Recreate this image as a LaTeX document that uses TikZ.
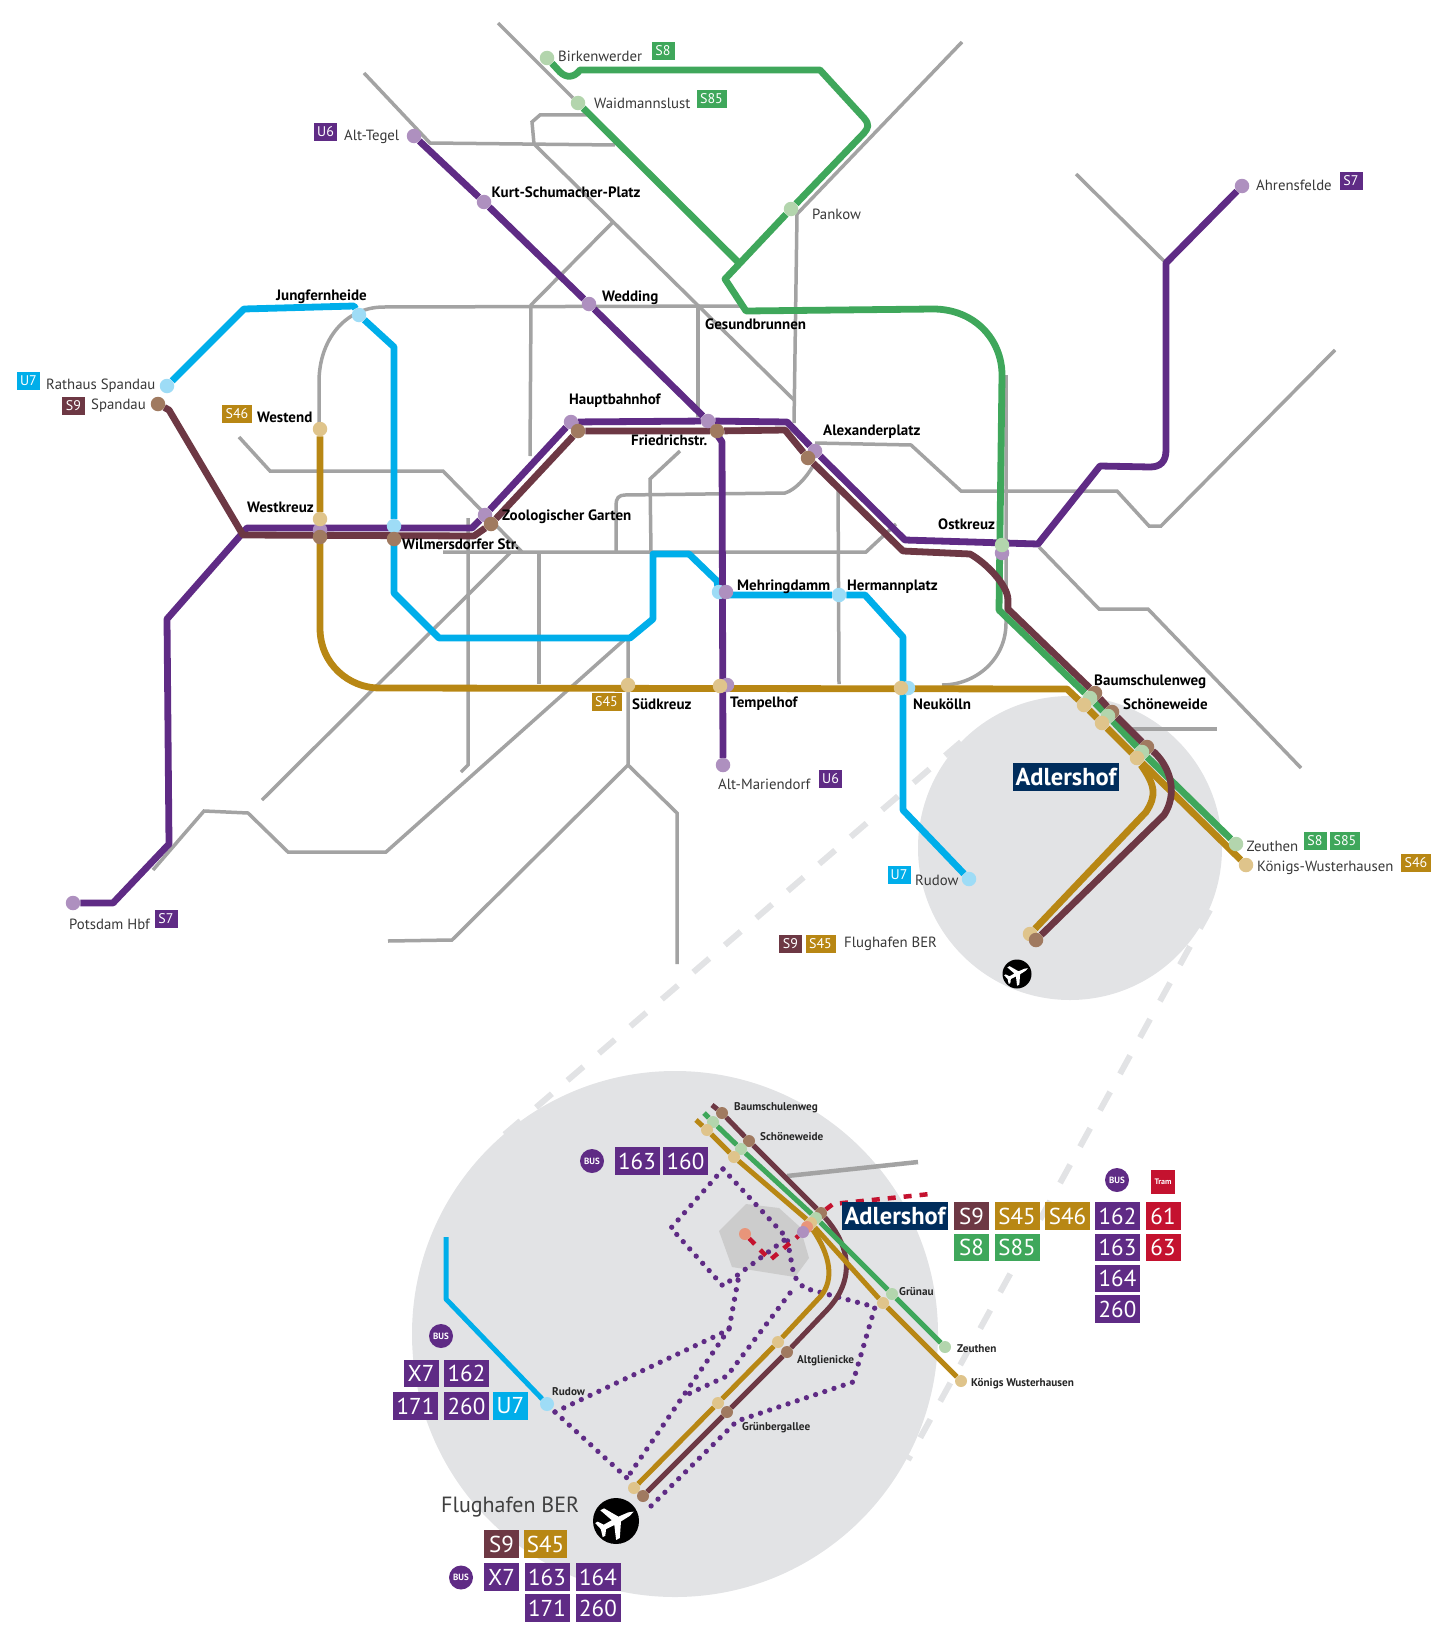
\documentclass[tikz,border=0pt]{standalone}
\usepackage{fontspec}
\setmainfont{PT Sans}
\usetikzlibrary{backgrounds}
\definecolor{cP}{HTML}{5F2B85}
\definecolor{cB}{HTML}{6D3844}
\definecolor{cO}{HTML}{B88714}
\definecolor{cG}{HTML}{3FA75B}
\definecolor{cU}{HTML}{00AEEA}
\definecolor{cN}{HTML}{A3A3A3}
\definecolor{cC}{HTML}{E2E3E5}
\definecolor{cT}{HTML}{C4122F}
\definecolor{cNavy}{HTML}{002D5C}
\definecolor{dP}{HTML}{AE90BF}
\definecolor{dB}{HTML}{A07A60}
\definecolor{dO}{HTML}{DFC48B}
\definecolor{dG}{HTML}{B3D5AD}
\definecolor{dU}{HTML}{9EDCF6}
\definecolor{dT}{HTML}{E8957A}
\newcommand{\fsz}[1]{\fontsize{#1}{#1}\selectfont}

\begin{document}
\begin{tikzpicture}[x=1pt,y=-1pt,
	stopm/.style={circle,minimum size=14.5pt,inner sep=0pt,outer sep=0pt,fill=#1},
	stopi/.style={circle,minimum size=12pt,inner sep=0pt,outer sep=0pt,fill=#1},
	lab/.style={anchor=west,inner sep=0pt,yshift=-1pt,text=black,font=\bfseries\fsz{15}},
	labg/.style={anchor=west,inner sep=0pt,yshift=-1pt,text=black!78,font=\fsz{14.8}},
	labi/.style={anchor=west,inner sep=0pt,yshift=-1pt,text=black!85,font=\bfseries\fsz{11.2}},
	tag/.style={fill=#1,text=white,inner sep=0pt,minimum width=23pt,minimum height=18pt,font=\fsz{14}},
	tagw/.style={tag=#1,minimum width=30pt},
	tagb/.style={fill=#1,text=white,inner sep=0pt,minimum width=45pt,minimum height=27.5pt,font=\fsz{23}},
	tags/.style={tagb=#1,minimum width=35pt},
	busm/.style={circle,fill=cP,text=white,inner sep=0pt,minimum size=24pt,font=\bfseries\fsz{9}},
	net/.style={draw=cN,line width=3.5pt,line join=miter},
	rail/.style={draw=#1,line width=6.8pt,line join=round},
	raili/.style={draw=#1,line width=5pt,line join=round},
	busline/.style={draw=cP,line width=5.3pt,line cap=round,dash pattern=on 0pt off 9.7pt},
	lens/.style={draw=cC,line width=6pt,dash pattern=on 21pt off 20.5pt},
	adlerbox/.style={fill=cNavy,text=white,inner sep=0pt,minimum width=106pt,minimum height=28pt,font=\bfseries\fsz{24.5}},
	planeicon/.pic={\fill[white] (0.95,0) -- (0.7,0.09) -- (0.2,0.13) -- (-0.22,0.8) -- (-0.42,0.8) -- (-0.16,0.13) -- (-0.6,0.12) -- (-0.78,0.38) -- (-0.92,0.38) -- (-0.82,0) -- (-0.92,-0.38) -- (-0.78,-0.38) -- (-0.6,-0.12) -- (-0.16,-0.13) -- (-0.42,-0.8) -- (-0.22,-0.8) -- (0.2,-0.13) -- (0.7,-0.09) -- cycle;}]
	\useasboundingbox (0,0) rectangle (1450,1651);

	\node[stopm=dG] (birken) at (547,58) {};
	\node[stopm=dG] (waid) at (578,103) {};
	\node[stopm=dG] (pankow) at (791,209) {};
	\node[stopm=dP] (ostP) at (1002,553) {};
	\node[stopm=dG] (ost) at (1002,545) {};
	\node[stopm=dP] (tegel) at (414,136) {};
	\node[stopm=dP] (kurt) at (484,202) {};
	\node[stopm=dP] (wedding) at (589,304) {};
	\node[stopm=dP] (hbf) at (571,422) {};
	\node[stopm=dB] (hbfB) at (578,431) {};
	\node[stopm=dP] (fried) at (708,421) {};
	\node[stopm=dB] (friedB) at (717,431) {};
	\node[stopm=dP] (alex) at (815,451) {};
	\node[stopm=dB] (alexB) at (808,458) {};
	\node[stopm=dP] (zoo) at (485,515) {};
	\node[stopm=dB] (zooB) at (491,524) {};
	\node[stopm=dP] (westP) at (320,530) {};
	\node[stopm=dO] (westO) at (320,519) {};
	\node[stopm=dB] (westB) at (320,537) {};
	\node[stopm=dU] (wilm) at (394,526) {};
	\node[stopm=dB] (wilmB) at (394,539) {};
	\node[stopm=dP] (ahrens) at (1242,186) {};
	\node[stopm=dP] (potsdam) at (73,903) {};
	\node[stopm=dU] (mehrU) at (719,592) {};
	\node[stopm=dP] (mehr) at (726,592) {};
	\node[stopm=dP] (tempP) at (727,685) {};
	\node[stopm=dO] (tempel) at (720,686) {};
	\node[stopm=dP] (marien) at (723,765) {};
	\node[stopm=dU] (rathaus) at (167,386) {};
	\node[stopm=dB] (spandau) at (158,404) {};
	\node[stopm=dU] (jung) at (359,315) {};
	\node[stopm=dO] (westend) at (320,429) {};
	\node[stopm=dU] (hermann) at (839,595) {};
	\node[stopm=dU] (neukU) at (908,688) {};
	\node[stopm=dO] (neuk) at (901,688) {};
	\node[stopm=dO] (sued) at (628,685) {};
	\node[stopm=dU] (rudow) at (969,879) {};
	\node[stopm=dB] (baumB) at (1095,693) {};
	\node[stopm=dG] (baumG) at (1090,698) {};
	\node[stopm=dO] (baumO) at (1084,705) {};
	\node[stopm=dB] (schoeB) at (1112,712) {};
	\node[stopm=dG] (schoeG) at (1108,716) {};
	\node[stopm=dO] (schoeO) at (1102,723) {};
	\node[stopm=dB] (adlerB) at (1147,747) {};
	\node[stopm=dG] (adlerG) at (1142,752) {};
	\node[stopm=dO] (adlerO) at (1137,758) {};
	\node[stopm=dG] (zeuthen) at (1236,844) {};
	\node[stopm=dO] (koenigs) at (1246,865) {};
	\node[stopm=dO] (berO) at (1030,934) {};
	\node[stopm=dB] (berB) at (1036,940) {};

	\node[stopi=dB] (ibaumB) at (722,1113) {};
	\node[stopi=dG] (ibaumG) at (713,1122) {};
	\node[stopi=dO] (ibaumO) at (707,1130) {};
	\node[stopi=dB] (ischoeB) at (749,1141) {};
	\node[stopi=dG] (ischoeG) at (741,1149) {};
	\node[stopi=dO] (ischoeO) at (734,1157) {};
	\node[stopi=dB] (iadlerB) at (821,1213) {};
	\node[stopi=dG] (iadlerG) at (816,1218) {};
	\node[stopi=dO] (iadlerO) at (811,1223) {};
	\node[stopi=dT] (iadlerT) at (807,1227) {};
	\node[stopi=dP] (iadlerP) at (803,1232) {};
	\node[stopi=dT] (itram) at (745,1234) {};
	\node[stopi=dG] (igruenG) at (892,1294) {};
	\node[stopi=dO] (igruenO) at (883,1303) {};
	\node[stopi=dG] (izeuthen) at (945,1347) {};
	\node[stopi=dO] (ikoenigs) at (961,1381) {};
	\node[stopi=dO] (ialtO) at (778,1342) {};
	\node[stopi=dB] (ialtB) at (787,1352) {};
	\node[stopi=dO] (igrueO) at (718,1403) {};
	\node[stopi=dB] (igrueB) at (727,1412) {};
	\node[stopi=dO] (iberO) at (634,1488) {};
	\node[stopi=dB] (iberB) at (643,1496) {};
	\node[stopi=dU,minimum size=14pt] (irudow) at (547,1404) {};

	\coordinate (lensA) at (961,742);
	\coordinate (lensB) at (490,1147);
	\coordinate (lensC) at (1210,910);
	\coordinate (lensD) at (908,1460);
	\coordinate (bus0) at (555,1412);
	\coordinate (bus1) at (723,1169);
	\coordinate (bus2) at (723,1286);
	\coordinate (bus3) at (787,1238);
	\coordinate (bus4) at (729,1329);
	\coordinate (bus5) at (627,1478);

	\begin{scope}[on background layer]
		\fill[cC] (1070,848) circle (152);
		\fill[cC] (675,1334) circle (263);
		\path[lens] (lensA) -- (lensB);
		\path[lens] (lensC) -- (lensD);
		\path[net] (498,23) -- (waid);
		\path[net] (364,73) -- (430,143) -- (615,145);
		\path[net] (587,115) -- (540,115) -- (532,122) -- (534,144) -- (794,400);
		\path[net] (613,222) -- (531,305) -- (530,456);
		\path[net] (319,428) -- (319,382) .. controls (319,340) and (345,307) .. (384,307) -- (745,306);
		\path[net] (698,306) -- (698,417);
		\path[net] (239,437) -- (270,471) -- (443,471) -- (522,552);
		\path[net] (443,552) -- (866,552) -- (896,524);
		\path[net] (468,518) -- (468,765) -- (461,772);
		\path[net] (539,552) -- (539,684);
		\path[net] (680,451) -- (650,479) -- (651,552);
		\path[net] (616,552) -- (616,505) .. controls (616,498) and (619,495) .. (625,495) -- (785,493) .. controls (795,490) and (806,478) .. (813,466);
		\path[net] (262,800) -- (511,552);
		\path[net] (153,870) -- (204,811) -- (248,813) -- (288,852) -- (386,852) -- (624,640);
		\path[net] (628,640) -- (628,765) -- (677,813) -- (677,964);
		\path[net] (628,765) -- (452,940) -- (388,941);
		\path[net] (962,42) -- (797,214) -- (794,423);
		\path[net] (1076,174) -- (1164,261);
		\path[net] (815,443) -- (911,445) -- (961,491) -- (1117,491) -- (1149,526) -- (1161,526) -- (1335,350);
		\path[net] (1039,547) -- (1099,609) -- (1148,609) -- (1301,768);
		\path[net] (838,484) -- (839,684);
		\path[net] (1006,375) -- (1006,623) .. controls (1006,660) and (975,685) .. (942,685);
		\path[net] (1132,729) -- (1217,729);

		\fill[black!20] (746,1204) -- (779,1208) -- (800,1227) -- (809,1258) -- (795,1277) -- (732,1267) -- (719,1231) -- cycle;
		\draw[cN,line width=4.5pt] (918,1162) -- (787,1176);
		\path[busline] (bus1) -- (bus3) -- (794,1276) -- (804,1288) -- (875,1307) -- (853,1382) -- (737,1421) -- (649,1508);
		\path[busline] (bus1) -- (671,1228) -- (bus2) -- (bus3);
		\path[busline] (bus0) -- (720,1334) -- (bus4) -- (739,1275);
		\path[busline] (bus4) -- (bus5);
		\path[busline] (790,1293) -- (727,1376) -- (684,1396);
		\path[busline] (bus0) -- (bus5);
		\draw[cT,line width=4.5pt,dash pattern=on 8pt off 8pt] (itram) -- (770,1260) -- (iadlerP) -- (iadlerB) -- (833,1204) -- (930,1194);
		\path[raili=cU] (446,1237) -- (446,1299) -- (irudow);
		\path[raili=cO] (813,1230) .. controls (830,1255) and (835,1280) .. (820,1297) -- (ialtO) -- (igrueO) -- (iberO);
		\path[raili=cB] (712,1105) -- (ibaumB) -- (ischoeB) -- (iadlerB) .. controls (845,1240) and (860,1275) .. (827,1310) -- (ialtB) -- (igrueB) -- (iberB);
		\path[raili=cO] (696,1120) -- (ibaumO) -- (ischoeO) -- (iadlerO) -- (igruenO) -- (ikoenigs);
		\path[raili=cG] (704,1113) -- (ibaumG) -- (ischoeG) -- (iadlerG) -- (igruenG) -- (izeuthen);

		\path[rail=cO] (westend) -- (westO) -- (320,628) .. controls (320,665) and (350,688) .. (379,688) -- (1067,689) -- (baumO) -- (schoeO) -- (adlerO) -- (koenigs);
		\path[rail=cO] (1141,765) .. controls (1155,785) and (1157,795) .. (1146,812) -- (berO);
		\path[rail=cU] (rathaus) -- (244,309) -- (354,306) -- (jung) -- (394,347) -- (wilm) -- (394,593) -- (439,638) -- (630,638) -- (653,619) -- (653,554) -- (689,554) -- (717,581) -- (719,595) -- (hermann) -- (865,595) -- (903,637) -- (903,810) -- (rudow);
		\path[rail=cP] (tegel) -- (kurt) -- (wedding) -- (fried) -- (722,442) -- (marien);
		\path[rail=cP] (ahrens) -- (1166,263) -- (1166,450) .. controls (1166,462) and (1160,467) .. (1150,467) -- (1100,466) -- (1038,544) -- (905,540) -- (alex) -- (787,422) -- (fried) -- (hbf) -- (zoo) -- (472,528) -- (247,528) -- (167,619) -- (169,844) -- (113,903) -- (potsdam);
		\path[rail=cG] (waid) -- (738,262);
		\path[rail=cG] (birken) -- (560,72) .. controls (566,78) and (574,78) .. (580,70) -- (820,70) -- (864,118) .. controls (870,125) and (868,128) .. (864,133) -- (pankow) -- (725,279) -- (746,311) -- (933,309) .. controls (975,309) and (1002,340) .. (1002,375) -- (999,610) -- (baumG) -- (schoeG) -- (adlerG) -- (zeuthen);
		\path[rail=cB] (spandau) -- (169,410) -- (243,535) -- (474,536) -- (zooB) -- (hbfB) -- (friedB) -- (785,430) -- (alexB) -- (903,551) -- (970,554) .. controls (985,562) and (1008,585) .. (1008,600) -- (1008,609) -- (baumB) -- (schoeB) -- (adlerB) -- (1155,753) .. controls (1172,770) and (1177,795) .. (1164,815) -- (berB);
	\end{scope}

	\node[lab] (t1) at (491.5,191) {Kurt-Schumacher-Platz};
	\node[lab] (t2) at (602,297) {Wedding};
	\node[lab] (t3) at (276,296) {Jungfernheide};
	\node[lab] (t4) at (569,400) {Hauptbahnhof};
	\node[lab] (t5) at (631,439) {Friedrichstr.};
	\node[lab] (t6) at (247,506) {Westkreuz};
	\node[lab] (t7) at (502,516) {Zoologischer Garten};
	\node[lab] (t8) at (402,543) {Wilmersdorfer Str.};
	\node[lab] (t9) at (705,323) {Gesundbrunnen};
	\node[lab] (t10) at (823,431) {Alexanderplatz};
	\node[lab] (t11) at (938,523) {Ostkreuz};
	\node[lab] (t12) at (737,586) {Mehringdamm};
	\node[lab] (t13) at (847,586) {Hermannplatz};
	\node[lab] (t14) at (1094,681) {Baumschulenweg};
	\node[lab] (t15) at (1123,703) {Schöneweide};
	\node[lab] (t16) at (913,703) {Neukölln};
	\node[lab] (t17) at (730,703) {Tempelhof};
	\node[lab] (t18) at (632,703) {Südkreuz};
	\node[lab] (t19) at (257,416) {Westend};
	\node[labg] (g1) at (558,55) {Birkenwerder};
	\node[labg] (g2) at (594,102) {Waidmannslust};
	\node[labg] (g3) at (344,136) {Alt-Tegel};
	\node[labg] (g4) at (46,385) {Rathaus Spandau};
	\node[labg] (g5) at (91,405) {Spandau};
	\node[labg] (g6) at (812,213) {Pankow};
	\node[labg] (g7) at (1256,184) {Ahrensfelde};
	\node[labg] (g8) at (718,783) {Alt-Mariendorf};
	\node[labg] (g9) at (1246.5,845) {Zeuthen};
	\node[labg] (g10) at (1257,867) {Königs-Wusterhausen};
	\node[labg] (g11) at (915,879) {Rudow};
	\node[labg] (g12) at (844,943) {Flughafen BER};
	\node[labg] (g13) at (69,923) {Potsdam Hbf};

	\node[tag=cG] (b1) at (663,51) {S8};
	\node[tagw=cG] (b2) at (711.5,99) {S85};
	\node[tag=cP] (b3) at (325.5,132) {U6};
	\node[tag=cU] (b4) at (28.5,381) {U7};
	\node[tag=cB] (b5) at (73.5,405.5) {S9};
	\node[tagw=cO] (b6) at (237,414) {S46};
	\node[tag=cP] (b7) at (1351,181) {S7};
	\node[tag=cP] (b8) at (166,919) {S7};
	\node[tagw=cO] (b9) at (606.5,702) {S45};
	\node[tag=cP] (b10) at (830.5,779) {U6};
	\node[tag=cU] (b11) at (899,875) {U7};
	\node[tag=cB] (b12) at (790.5,944) {S9};
	\node[tagw=cO] (b13) at (820.5,944) {S45};
	\node[tag=cG] (b14) at (1315,841) {S8};
	\node[tagw=cG] (b15) at (1345,841) {S85};
	\node[tagw=cO] (b16) at (1416,863) {S46};
	\node[adlerbox] (adlerS) at (1066,777) {Adlershof};
	\node[circle,fill=black,minimum size=29pt,inner sep=0pt] (planeS) at (1017,974) {};
	\pic[rotate=28,scale=13] at (planeS) {planeicon};

	\node[labi] (i1) at (734,1107) {Baumschulenweg};
	\node[labi] (i2) at (760,1136) {Schöneweide};
	\node[labi] (i3) at (899,1291) {Grünau};
	\node[labi] (i4) at (957,1348) {Zeuthen};
	\node[labi] (i5) at (971,1383) {Königs Wusterhausen};
	\node[labi] (i6) at (797,1360) {Altglienicke};
	\node[labi] (i7) at (742,1427) {Grünbergallee};
	\node[labi] (i8) at (552,1391) {Rudow};

	\node[adlerbox] (adlerI) at (895,1216) {Adlershof};
	\node[tags=cB] (a1) at (971.5,1216) {S9};
	\node[tagb=cO] (a2) at (1017,1216) {S45};
	\node[tagb=cO] (a3) at (1067.5,1216) {S46};
	\node[tagb=cP] (a4) at (1117.5,1216) {162};
	\node[tags=cG] (a5) at (971.5,1247.5) {S8};
	\node[tagb=cG] (a6) at (1017,1247.5) {S85};
	\node[tagb=cP] (a7) at (1117.5,1247.5) {163};
	\node[tagb=cP] (a8) at (1117.5,1278.5) {164};
	\node[tagb=cP] (a9) at (1117.5,1309) {260};
	\node[tags=cT] (a10) at (1163,1216) {61};
	\node[tags=cT] (a11) at (1163,1247.5) {63};
	\node[busm] (a12) at (1117,1180) {BUS};
	\node[fill=cT,text=white,inner sep=0pt,minimum size=24pt,font=\bfseries\fsz{8}] (a13) at (1163,1182) {Tram};

	\node[busm] (c1) at (592,1161) {BUS};
	\node[tagb=cP] (c2) at (637,1161) {163};
	\node[tagb=cP] (c3) at (685.5,1161) {160};
	\node[busm] (c4) at (441,1336) {BUS};
	\node[tags=cP] (c5) at (421,1373.5) {X7};
	\node[tagb=cP] (c6) at (466.5,1373.5) {162};
	\node[tagb=cP] (c7) at (415.5,1406) {171};
	\node[tagb=cP] (c8) at (466.5,1406) {260};
	\node[tags=cU] (c9) at (510.5,1406) {U7};

	\node[anchor=west,inner sep=0pt,text=black!75,font=\fsz{22}] (berT) at (441,1507) {Flughafen BER};
	\node[circle,fill=black,minimum size=46pt,inner sep=0pt] (planeB) at (616,1521) {};
	\pic[rotate=28,scale=21] at (planeB) {planeicon};
	\node[tags=cB] (d1) at (501.5,1544) {S9};
	\node[tagb=cO,minimum width=43pt] (d2) at (545.5,1544) {S45};
	\node[busm] (d3) at (461,1577.5) {BUS};
	\node[tags=cP] (d4) at (501.5,1577) {X7};
	\node[tagb=cP] (d5) at (547,1577) {163};
	\node[tagb=cP] (d6) at (598,1577) {164};
	\node[tagb=cP] (d7) at (547,1608) {171};
	\node[tagb=cP] (d8) at (598,1608) {260};
\end{tikzpicture}
\end{document}
